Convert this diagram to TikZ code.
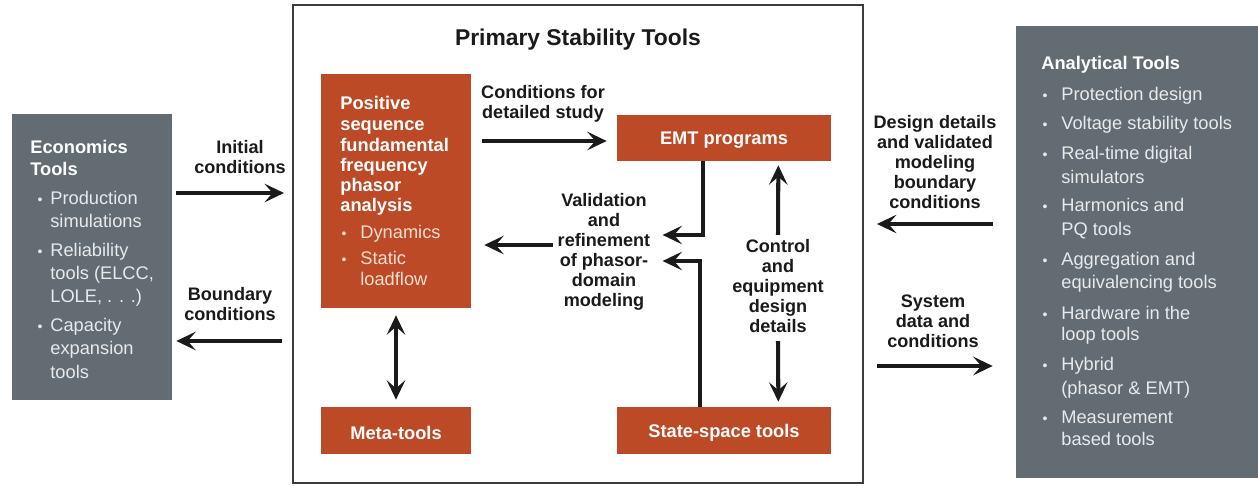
\documentclass[tikz,border=0pt]{standalone}
\usepackage{fontspec}
\setmainfont{Liberation Sans}
\usetikzlibrary{arrows.meta,calc,fit}
\definecolor{rust}{RGB}{188,74,38}
\definecolor{slate}{RGB}{99,108,114}
\definecolor{pale}{RGB}{232,234,235}
\definecolor{peach}{RGB}{246,222,208}
\definecolor{ink}{RGB}{26,26,26}
\begin{document}
\begin{tikzpicture}[x=0.02cm,y=-0.02cm,
  graybox/.style={fill=slate,draw=none,inner sep=0pt},
  rustbox/.style={fill=rust,draw=none,inner sep=0pt},
  framebox/.style={draw=ink!85,line width=1.2pt,inner sep=0pt},
  lbl/.style={font=\bfseries\fontsize{10.3}{11.4}\selectfont,align=center,inner sep=0pt,text=ink},
  wt/.style={font=\fontsize{10.4}{12.5}\selectfont,text=pale,anchor=base west,inner sep=0pt},
  wb/.style={font=\bfseries\fontsize{10.4}{12.5}\selectfont,text=white,anchor=base west,inner sep=0pt},
  pt/.style={font=\fontsize{10.4}{12.5}\selectfont,text=peach,anchor=base west,inner sep=0pt},
  dot/.style={font=\fontsize{8}{10}\selectfont,anchor=base,inner sep=0pt},
  boxtitle/.style={font=\bfseries\fontsize{10.4}{12.5}\selectfont,text=white,inner sep=0pt},
  arr/.style={line width=2.3pt,draw=ink,-{Stealth[length=11pt,width=10.5pt,inset=4.5pt]}},
  arrb/.style={line width=2.3pt,draw=ink,{Stealth[length=11pt,width=10.5pt,inset=4.5pt]}-{Stealth[length=11pt,width=10.5pt,inset=4.5pt]}}]
\useasboundingbox (0,0) rectangle (1258,486);
% boxes
\node[graybox,fit={(12,114) (172,400)}] (econ) {};
\node[framebox,fit={(293,5) (863,483)}] (main) {};
\node[rustbox,fit={(321,74) (471,308)}] (pos) {};
\node[rustbox,fit={(617,115) (831,161)}] (emt) {};
\node[rustbox,fit={(321,407) (471,454)}] (meta) {};
\node[rustbox,fit={(617,407) (831,454)}] (ss) {};
\node[graybox,fit={(1016,26) (1258,478)}] (anal) {};
% title
\node[font=\bfseries\fontsize{13}{15}\selectfont,text=ink,inner sep=0pt] (title) at (578,40) {Primary Stability Tools};
% box titles
\node[boxtitle] (emtt) at ($(emt)+(0,2)$) {EMT programs};
\node[boxtitle] (metat) at ($(meta)+(0,2)$) {Meta-tools};
\node[boxtitle] (sst) at ($(ss)+(0,2)$) {State-space tools};
% economics text
\foreach \y/\t [count=\i] in {154/Economics,176/Tools}
  \node[wb,name=et\i] at (30,\y) {\t};
\foreach \y/\t [count=\i] in {205/Production,228/simulations,257/Reliability,280/{tools (ELCC,},303/{LOLE, . . .)},332/Capacity,355/expansion,378/tools}
  \node[wt,name=el\i] at (50,\y) {\t};
\foreach \y [count=\i] in {205,257,332}
  \node[dot,text=pale,name=ed\i] at (40,\y) {•};
% positive sequence text
\foreach \y/\t [count=\i] in {110/Positive,131/sequence,152/fundamental,172/frequency,192/phasor,212/analysis}
  \node[wb,name=pt\i] at (340,\y) {\t};
\foreach \y/\t [count=\i] in {239/Dynamics,265/Static,286/loadflow}
  \node[pt,name=pl\i] at (360,\y) {\t};
\foreach \y [count=\i] in {239,265}
  \node[dot,text=peach,name=pd\i] at (344,\y) {•};
% analytical text
\node[wb,name=at1] at (1041,70) {Analytical Tools};
\foreach \y/\t [count=\i] in {101/Protection design,130/Voltage stability tools,160/Real-time digital,184/simulators,212/Harmonics and,236/PQ tools,266/Aggregation and,289/equivalencing tools,319/Hardware in the,340/loop tools,370/Hybrid,394/(phasor \& EMT),423/Measurement,445/based tools}
  \node[wt,name=al\i] at (1061,\y) {\t};
\foreach \y [count=\i] in {101,130,160,212,266,319,370,423}
  \node[dot,text=pale,name=ad\i] at (1045,\y) {•};
% labels
\node[lbl] (lic) at (240,157) {Initial\\conditions};
\node[lbl] (lbc) at (230,304) {Boundary\\conditions};
\node[lbl] (lcd) at (543,104) {Conditions for\\detailed study};
\node[lbl] (lval) at (604,252) {Validation\\and\\refinement\\of phasor-\\domain\\modeling};
\node[lbl] (lctl) at (778,286) {Control\\and\\equipment\\design\\details};
\node[lbl] (ldd) at (935,162) {Design details\\and validated\\modeling\\boundary\\conditions};
\node[lbl] (lsd) at (933,321) {System\\data and\\conditions};
% connectors
\draw[arr] ($(econ.east|-0,193)+(4,0)$) -- ($(main.west|-0,193)+(-8,0)$);
\draw[arr] ($(main.west|-0,341)+(-10,0)$) -- ($(econ.east|-0,341)+(4,0)$);
\draw[arr] ($(pos.east|-0,141)+(11,0)$) -- ($(emt.west|-0,141)+(-10,0)$);
\draw[arr] ($(lval.west|-0,245)+(-4,0)$) -- ($(pos.east|-0,245)+(13,0)$);
\draw[arr] ($(emt.south west)+(86,0)$) |- ($(lval.east|-0,235)+(12,0)$);
\draw[arr] ($(ss.north west)+(83,0)$) |- ($(lval.east|-0,261)+(12,0)$);
\draw[arr] ($(lctl.north)+(0,-4)$) -- ($(emt.south east)+(-53,4)$);
\draw[arr] ($(lctl.south)+(0,8)$) -- ($(ss.north east)+(-53,-5)$);
\draw[arrb] ($(pos.south)+(0,7)$) -- ($(meta.north)+(0,-7)$);
\draw[arr] ($(anal.west|-0,224)+(-23,0)$) -- ($(main.east|-0,224)+(13,0)$);
\draw[arr] ($(main.east|-0,366)+(13,0)$) -- ($(anal.west|-0,366)+(-23,0)$);
\end{tikzpicture}
\end{document}
